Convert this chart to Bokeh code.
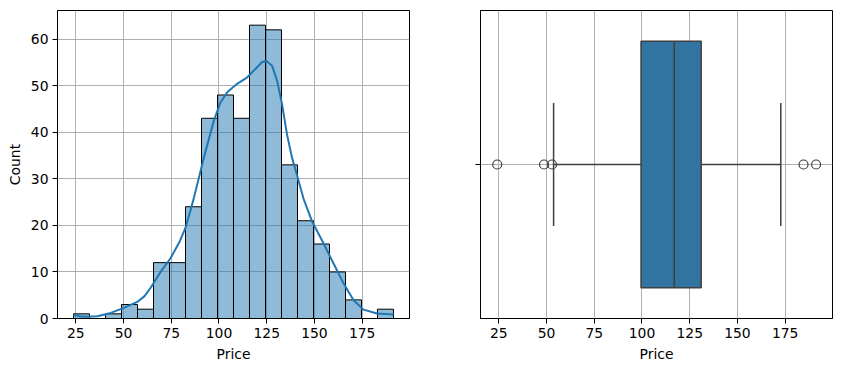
import numpy as np
from bokeh.plotting import figure
from bokeh.layouts import row
from bokeh.models import FixedTicker, Range1d
from bokeh.embed import file_html
from bokeh.resources import INLINE

# ---- data ----
bin_start = 23.8
bin_end = 191.4
counts = [1, 0, 1, 3, 2, 12, 12, 24, 43, 48, 43, 63, 62, 33, 21, 16, 10, 4, 0, 2]

kde_x = [23.8, 27.0, 30.2, 36.3, 43.3, 50.2, 57.2, 61.0, 64.2, 69.4, 74.7, 79.5,
         82.5, 86.8, 92.1, 97.3, 100.8, 104.3, 109.5, 114.8, 119.1, 122.6,
         124.8, 127.8, 130.4, 133.0, 135.6, 138.2, 140.5, 144.3, 148.7,
         154.8, 160.0, 165.3, 170.5, 175.7, 182.7, 191.4]
kde_y = [0.78, 0.5, 0.36, 0.49, 1.2, 2.27, 3.56, 4.8, 6.6, 10.0, 13.0, 16.6,
         19.5, 25.8, 34.6, 42.5, 46.4, 48.6, 50.4, 51.8, 53.6, 55.1,
         55.3, 54.3, 51.1, 46.1, 39.6, 34.6, 31.3, 25.7, 20.9,
         16.1, 11.8, 7.5, 3.9, 1.9, 1.07, 0.86]

q1, median, q3 = 99.5, 116.9, 131.0
whisker_low, whisker_high = 53.7, 172.7
outliers = [24.2, 48.7, 52.9, 184.6, 191.2]

x_ticks = [25, 50, 75, 100, 125, 150, 175]
y_ticks = [0, 10, 20, 30, 40, 50, 60]

# ---- style helpers ----
FONT = "DejaVu Sans"
FS = "13.9px"
GRID = "#b0b0b0"
C0 = "#1f77b4"
BOXC = "#3274a1"
LINEC = "#3f3f3f"

span = bin_end - bin_start
x_lo, x_hi = bin_start - 0.05 * span, bin_end + 0.05 * span


def style(p):
    p.outline_line_color = "black"
    p.outline_line_width = 1
    p.background_fill_color = "white"
    p.border_fill_color = "white"
    for ax in p.axis:
        ax.axis_line_color = "black"
        ax.axis_line_width = 1
        ax.major_tick_line_color = "black"
        ax.major_tick_out = 5
        ax.major_tick_in = 0
        ax.minor_tick_line_color = None
        ax.major_label_text_font = FONT
        ax.major_label_text_font_size = FS
        ax.major_label_text_color = "black"
        ax.major_label_standoff = 4
        ax.axis_label_text_font = FONT
        ax.axis_label_text_font_size = FS
        ax.axis_label_text_font_style = "normal"
        ax.axis_label_text_color = "black"
        ax.axis_label_standoff = 5
    for g in p.grid:
        g.grid_line_color = GRID
        g.grid_line_width = 1


# ---- left: histogram + kde ----
edges = np.linspace(bin_start, bin_end, len(counts) + 1)
p1 = figure(frame_width=352, frame_height=308, output_backend="svg",
            toolbar_location=None, min_border_left=57, min_border_right=35,
            min_border_top=10, min_border_bottom=40,
            x_range=Range1d(x_lo, x_hi), y_range=Range1d(0, max(counts) * 1.05))
p1.quad(left=edges[:-1], right=edges[1:], bottom=0, top=counts,
        fill_color=C0, fill_alpha=0.5, line_color="black", line_width=1)
p1.line(kde_x, kde_y, line_color=C0, line_width=2, line_join="round")
p1.xaxis.ticker = FixedTicker(ticks=x_ticks)
p1.yaxis.ticker = FixedTicker(ticks=y_ticks)
p1.xaxis.axis_label = "Price"
p1.yaxis.axis_label = "Count"
style(p1)

# ---- right: boxplot ----
p2 = figure(frame_width=352, frame_height=308, output_backend="svg",
            toolbar_location=None, min_border_left=36, min_border_right=3,
            min_border_top=10, min_border_bottom=40,
            x_range=Range1d(x_lo, x_hi), y_range=Range1d(-0.5, 0.5))
p2.segment(x0=[whisker_low, q3], y0=[0, 0], x1=[q1, whisker_high], y1=[0, 0],
           line_color=LINEC, line_width=1.5)
p2.segment(x0=[whisker_low, whisker_high], y0=[-0.2, -0.2],
           x1=[whisker_low, whisker_high], y1=[0.2, 0.2],
           line_color=LINEC, line_width=1.5)
p2.quad(left=[q1], right=[q3], bottom=[-0.4], top=[0.4],
        fill_color=BOXC, line_color=LINEC, line_width=1.5)
p2.segment(x0=[median], y0=[-0.4], x1=[median], y1=[0.4],
           line_color=LINEC, line_width=1.5)
p2.scatter(outliers, [0] * len(outliers), size=9, fill_color=None,
           line_color=LINEC, line_width=1.2)
p2.xaxis.ticker = FixedTicker(ticks=x_ticks)
p2.yaxis.ticker = FixedTicker(ticks=[0])
p2.yaxis.major_label_overrides = {0: " "}
p2.xaxis.axis_label = "Price"
style(p2)

layout = row(p1, p2)
open("out.html", "w").write(file_html(layout, INLINE))
